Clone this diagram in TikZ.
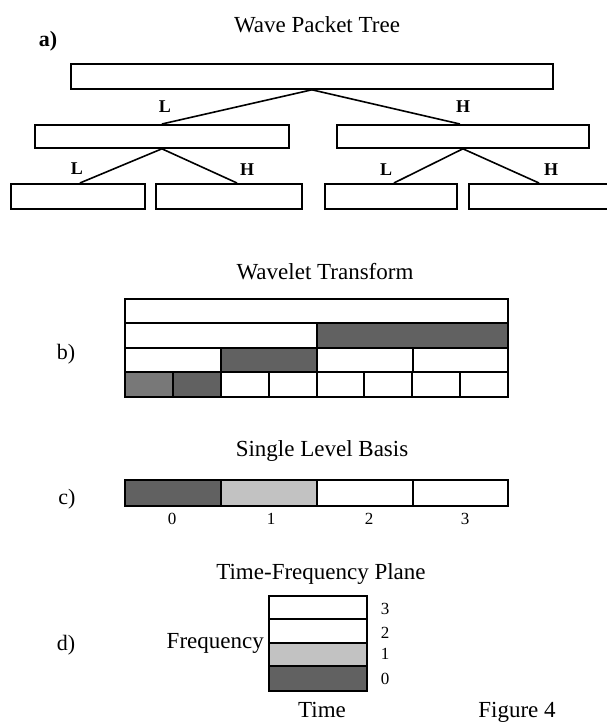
\documentclass[tikz,border=0pt]{standalone}
\usepackage{fontspec}
\setmainfont{Liberation Serif}
\usetikzlibrary{calc}
\definecolor{shadeD}{gray}{0.38}
\definecolor{shadeM}{gray}{0.47}
\definecolor{shadeL}{gray}{0.76}
\tikzset{
  box/.style={draw, line width=1.8pt, inner sep=0pt, anchor=north west},
  link/.style={line width=1.6pt},
  branch/.style={font=\fontsize{18}{18}\selectfont\bfseries, inner sep=0pt},
  title/.style={font=\fontsize{23}{23}\selectfont, inner sep=0pt, anchor=base},
  tag/.style={font=\fontsize{22}{22}\selectfont, inner sep=0pt, anchor=base},
  num/.style={font=\fontsize{17}{17}\selectfont, inner sep=0pt, anchor=base},
  cell/.style={draw, line width=1.8pt},
}
\begin{document}
\begin{tikzpicture}[x=1pt, y=-1pt]
\useasboundingbox (0,0) rectangle (606,723);

% ---- a) wave packet tree ----
\node[title] (tA) at (317,32) {Wave Packet Tree};
\node[tag, font=\fontsize{22}{22}\selectfont\bfseries] (la) at (48,46) {a)};

\node[box, minimum width=482pt, minimum height=25pt] (root) at (70,63) {};
\node[box, minimum width=254pt, minimum height=23pt] (lo) at (34,124) {};
\node[box, minimum width=252pt, minimum height=23pt] (hi) at (336,124) {};
\node[box, minimum width=134pt, minimum height=25pt] (ll) at (10,183) {};
\node[box, minimum width=146pt, minimum height=25pt] (lh) at (155,183) {};
\node[box, minimum width=132pt, minimum height=25pt] (hl) at (324,183) {};
\node[box, minimum width=150pt, minimum height=25pt] (hh) at (468,183) {};

\draw[link] (root.south) -- (lo.north);
\draw[link] (root.south) -- ([xshift=-3pt]hi.north);
\draw[link] (lo.south) -- ([xshift=2pt]ll.north);
\draw[link] (lo.south) -- ([xshift=82pt]lh.north west);
\draw[link] (hi.south) -- ([xshift=3pt]hl.north);
\draw[link] (hi.south) -- ([xshift=71pt]hh.north west);

\node[branch] (b1) at (165,107) {L};
\node[branch] (b2) at (463,107) {H};
\node[branch] (b3) at (77,169) {L};
\node[branch] (b4) at (247,170) {H};
\node[branch] (b5) at (386,170) {L};
\node[branch] (b6) at (551,170) {H};

% ---- b) wavelet transform ----
\node[title] (tB) at (325,279) {Wavelet Transform};
\node[tag] (lb) at (66,359) {b)};

\draw[cell, fill=white] (125,299) rectangle (508,323);
\draw[cell, fill=white] (125,323) rectangle (317,348);
\draw[cell, fill=shadeD] (317,323) rectangle (508,348);
\draw[cell, fill=white] (125,348) rectangle (221,372);
\draw[cell, fill=shadeD] (221,348) rectangle (317,372);
\draw[cell, fill=white] (317,348) rectangle (413,372);
\draw[cell, fill=white] (413,348) rectangle (508,372);
\draw[cell, fill=shadeM] (125,372) rectangle (173,397);
\draw[cell, fill=shadeD] (173,372) rectangle (221,397);
\foreach \xa/\xb in {221/269, 269/317, 317/364, 364/412, 412/460, 460/508}
  \draw[cell, fill=white] (\xa,372) rectangle (\xb,397);

% ---- c) single level basis ----
\node[title] (tC) at (322,456) {Single Level Basis};
\node[tag] (lc) at (67,504) {c)};

\draw[cell, fill=shadeD] (125,480) rectangle (221,506);
\draw[cell, fill=shadeL] (221,480) rectangle (317,506);
\draw[cell, fill=white] (317,480) rectangle (413,506);
\draw[cell, fill=white] (413,480) rectangle (508,506);

\node[num] (c0) at (172,524) {0};
\node[num] (c1) at (271,524) {1};
\node[num] (c2) at (369,524) {2};
\node[num] (c3) at (465,524) {3};

% ---- d) time-frequency plane ----
\node[title] (tD) at (321,579) {Time-Frequency Plane};
\node[tag] (ld) at (66,650) {d)};

\draw[cell, fill=white] (269,596) rectangle (367,619);
\draw[cell, fill=white] (269,619) rectangle (367,643);
\draw[cell, fill=shadeL] (269,643) rectangle (367,666);
\draw[cell, fill=shadeD] (269,666) rectangle (367,691);

\node[num] (f3) at (385,614) {3};
\node[num] (f2) at (385,638) {2};
\node[num] (f1) at (385,659) {1};
\node[num] (f0) at (385,684) {0};

\node[title, anchor=base east] (fq) at (264,648) {Frequency};
\node[title] (tm) at (322,717) {Time};
\node[title] (fg) at (517,717) {Figure 4};
\end{tikzpicture}
\end{document}
